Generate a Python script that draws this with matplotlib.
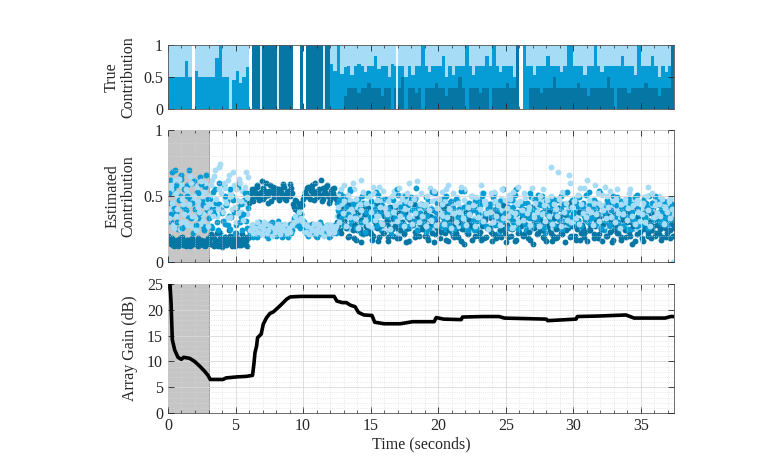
import numpy as np
import matplotlib
matplotlib.use("Agg")
import matplotlib.pyplot as plt
from matplotlib.ticker import MultipleLocator

plt.rcParams['font.family'] = ['Liberation Serif', 'DejaVu Serif']

DARK = '#0677A5'
MID = '#069DD6'
LIGHT = '#A6DCF5'

# ---- true contribution, 0.25 s bins (dark / medium / light share) ----
bin_w = 0.25
top_dark = [0, 0, 0, 0, 0, 0, 0, 0, 0, 0,
            0, 0, 0, 0, 0, 0, 0, 0, 0, 0,
            0, 0, 0, 0, 0, 1, 1, 1, 1, 1,
            1, 1, 1, 1, 1, 1, 1, 0, 0, 1,
            0, 1, 1, 1, 1, 1, 1, 1,
            0, 0, 0, 0, .2, .33, .33, .33, .25, .33,
            .33, .4, .33, .33, .33, .2, .33, .33, 0, .33,
            .33, .5, 0, .33, .33, .25, .33, 0, .33, .33,
            .33, .4, .33, .33, .2, .33, .33, .33, .5, .33,
            0, .33, .33, .33, .25, .33, .33, 0, .33, .33,
            .33, .33, .4, .33, .33, 1, 0, 0, 0, .33,
            .33, .33, .25, .33, .33, .33, .5, .33, .33, .33,
            .33, .33, .33, .4, .33, .33, .2, .33, .33, .33,
            .33, .33, .5, .33, 0, .33, .33, .33, .25, .33,
            .33, .33, .33, .4, .33, .33, .33, .2, .33, .33, .33, 1]
top_mid = [.5, .5, .5, .5, .5, .75, .5, 0, .6, .5,
           .5, .5, .5, .5, .8, 1, .5, .5, 0, .45,
           .6, .4, .5, .65, 0, 0, 0, 0, 0, 0,
           0, 0, 0, 0, 0, 0, 0, 0, 0, 0,
           0, 0, 0, 0, 0, 0, 0, 0,
           .7, .6, 1, .55, .45, .34, .2, .34, .45, .34,
           .25, .27, .34, .5, .3, .47, .34, .17, .7, .34,
           .34, .17, .5, .34, .2, .42, .34, 1, .34, .25,
           .34, .27, .34, .5, .3, .34, .2, .34, .17, .34,
           1, .34, .2, .34, .42, .34, .5, .67, .67, .34,
           .25, .34, .27, .34, .17, 0, 0, 1, .67, .34,
           .2, .34, .42, .34, .5, .34, .17, .34, .25, .34,
           .67, .67, .34, .27, .34, .2, .47, .34, .67, .34,
           .25, .34, .17, .34, .67, .34, .5, .34, .42, .34,
           .2, .67, .34, .27, .34, .5, .34, .3, .34, .25, .34, 0]
top_light = [.5, .5, .5, .5, .5, .25, .5, 0, .4, .5,
             .5, .5, .5, .5, .2, 0, .5, .5, 1, .55,
             .4, .6, .5, .35, 0, 0, 0, 0, 0, 0,
             0, 0, 0, 0, 0, 0, 0, 0, 0, 0,
             0, 0, 0, 0, 0, 0, 0, 0,
             .3, .4, 0, .45, .35, .33, .47, .33, .3, .33,
             .42, .33, .33, .17, .37, .33, .33, .5, .3, .33,
             .33, .33, .5, .33, .47, .33, .33, 0, .33, .42,
             .33, .33, .33, .17, .5, .33, .47, .33, .33, .33,
             0, .33, .47, .33, .33, .33, .17, .33, 0, .33,
             .42, .33, .33, .33, .5, 0, 0, 0, .33, .33,
             .47, .33, .33, .33, .17, .33, .33, .33, .42, .33,
             0, 0, .33, .33, .33, .47, .33, .33, 0, .33,
             .42, .33, .33, .33, .33, .33, .17, .33, .33, .33,
             .47, 0, .33, .33, .33, .17, .33, .5, .33, .42, .33, 0]
gap_times = [6.86, 8.14, 11.58, 16.93]

# ---- estimated contribution (hundredths) ----
# set "a" sampled every 0.125 s from t=0, set "b" in between (offset 0.0625 s)
dt_est = 0.125
est_dark_a = [20, 17, 15, 13, 16, 14, 12, 18, 15, 13, 16, 14, 17, 12, 15, 14, 16, 13, 18, 15, 14, 16, 12, 15,
              17, 14, 20, 12, 16, 22, 13, 18, 11, 15, 19, 14, 24, 16, 12, 20, 15, 18, 13, 17, 21, 14, 16, 19,
              45, 52, 48, 55, 50, 58, 47, 53, 56, 49, 60, 51, 54, 46, 57, 52, 50, 55, 48, 53, 59, 51, 47, 54, 50, 56,
              44, 40, 46, 38, 42, 45, 48,
              53, 50, 57, 48, 55, 52, 60, 49, 54, 51, 46, 56, 53, 58, 50, 47, 55, 52, 49,
              30, 38, 25, 42, 33, 28, 45, 20, 35, 27, 18, 31, 24, 36, 15, 29, 40, 22, 26, 33,
              21, 17, 34, 28, 44, 19, 25, 37, 23, 30, 16, 27, 35, 20, 31, 42, 24, 18, 29, 38,
              22, 15, 33, 26, 47, 30, 19, 36, 24, 28, 35, 41, 20, 27, 17, 32, 25, 39, 21, 30,
              24, 18, 29, 34, 22, 45, 16, 27, 31, 20, 33, 26, 19, 38, 25, 14, 30, 22, 36, 28,
              17, 29, 43, 24, 20, 35, 27, 18, 32, 26, 40, 23, 16, 30, 37, 21, 28, 19, 34, 25,
              15, 32, 26, 20, 38, 29, 17, 44, 23, 27, 30, 21, 35, 18, 26, 33, 14, 29, 40, 22,
              25, 37, 19, 28, 16, 31, 24, 36, 20, 33, 18, 27, 42, 22, 30, 15, 34, 26, 19, 29,
              36, 20, 25, 32, 17, 28, 39, 23, 16, 31, 24, 34, 18, 27, 45, 21, 30, 16, 26, 35,
              20, 28, 33, 15, 24, 38, 22, 29, 17, 32, 27, 19, 36, 23, 30, 14, 26, 41, 21, 28,
              33, 16, 25, 31, 20, 37, 18, 27, 34, 22, 29, 21, 17, 35, 26, 19, 32, 24, 38, 20]
est_dark_b = [16, 14, 18, 12, 15, 17, 13, 16, 19, 14, 12, 17, 15, 13, 18, 16, 14, 12, 15, 17, 13, 16, 14, 18,
              15, 21, 13, 18, 16, 12, 23, 17, 14, 19, 13, 16, 20, 15, 18, 12, 22, 14, 17, 13, 19, 16, 12, 18,
              50, 55, 46, 53, 57, 49, 52, 61, 48, 54, 51, 45, 58, 53, 49, 56, 52, 47, 55, 50, 57, 48, 53, 51, 59, 52,
              42, 47, 39, 44, 36, 43, 50,
              51, 56, 49, 54, 58, 47, 53, 50, 55, 62, 48, 52, 57, 51, 45, 54, 50, 56, 48,
              28, 35, 22, 40, 31, 26, 19, 43, 33, 24, 29, 17, 38, 25, 32, 21, 36, 27, 41, 23,
              34, 20, 30, 26, 16, 39, 28, 22, 35, 31, 19, 42, 25, 33, 27, 18, 37, 24, 30, 21,
              38, 26, 16, 32, 28, 44, 23, 35, 20, 29, 25, 31, 37, 19, 27, 34, 22, 15, 30, 26,
              36, 23, 28, 41, 17, 30, 24, 33, 27, 19, 22, 35, 30, 16, 29, 25, 38, 21, 32, 27,
              31, 20, 26, 36, 23, 17, 28, 34, 19, 40, 26, 33, 21, 29, 18, 35, 24, 30, 43, 22,
              28, 19, 34, 25, 31, 16, 37, 22, 27, 33, 20, 29, 36, 23, 17, 42, 26, 31, 21, 35,
              32, 24, 18, 30, 27, 38, 22, 16, 33, 25, 19, 34, 28, 21, 36, 24, 30, 45, 20, 27,
              33, 17, 29, 38, 22, 26, 19, 35, 31, 24, 27, 40, 21, 30, 18, 33, 25, 29, 37, 20,
              35, 23, 31, 17, 28, 36, 22, 26, 19, 32, 24, 30, 38, 20, 33, 27, 16, 29, 35, 23,
              18, 32, 26, 41, 22, 30, 24, 36, 20, 28, 31, 25, 19, 34, 27, 22, 36, 18, 29, 26]
est_mid_a = [45, 62, 30, 55, 70, 38, 25, 50, 66, 42, 28, 58, 35, 48, 60, 22, 40, 53, 33, 64, 46, 27, 57, 39,
             33, 48, 26, 40, 55, 30, 44, 22, 37, 58, 29, 46, 35, 25, 50, 38, 28, 42, 60, 34, 24, 47, 31, 52,
             24, 20, 28, 22, 26, 19, 30, 23, 25, 21, 27, 18, 29, 24, 22, 26, 20, 31, 23, 25, 28, 21, 24, 19, 27, 22,
             30, 34, 28, 32, 26, 29, 31,
             23, 26, 20, 28, 24, 22, 27, 19, 25, 30, 21, 24, 26, 22, 28, 20, 25, 23, 27,
             45, 38, 52, 30, 41, 35, 48, 27, 55, 33, 40, 29, 46, 36, 22, 50, 34, 43, 31, 38,
             26, 44, 37, 53, 30, 41, 24, 47, 35, 39, 32, 48, 21, 42, 36, 29, 51, 38, 27, 45,
             37, 25, 43, 34, 49, 28, 40, 56, 31, 36, 44, 30, 38, 23, 46, 35, 41, 27, 52, 33,
             29, 42, 36, 48, 25, 39, 33, 45, 22, 40, 35, 47, 28, 41, 37, 54, 30, 43, 26, 38,
             42, 24, 39, 31, 46, 35, 50, 28, 37, 44, 27, 40, 34, 52, 29, 43, 23, 38, 46, 32,
             39, 31, 47, 26, 42, 36, 55, 30, 44, 28, 45, 33, 24, 40, 37, 49, 29, 41, 34, 51,
             30, 43, 38, 22, 46, 35, 40, 27, 48, 36, 41, 26, 35, 50, 31, 44, 28, 39, 33, 47,
             34, 48, 29, 42, 37, 25, 45, 32, 40, 53, 28, 39, 46, 33, 41, 30, 52, 36, 24, 43,
             47, 35, 27, 44, 38, 31, 49, 26, 40, 34, 36, 42, 30, 48, 25, 39, 45, 33, 51, 29,
             40, 28, 37, 45, 32, 50, 24, 41, 35, 46, 33, 46, 39, 27, 43, 36, 30, 48, 38, 31]
est_mid_b = [52, 36, 68, 41, 58, 30, 47, 63, 26, 55, 39, 50, 70, 33, 45, 61, 28, 52, 37, 59, 43, 24, 66, 48,
             42, 27, 53, 36, 45, 24, 60, 39, 31, 50, 43, 28, 55, 34, 47, 22, 40, 57, 30, 44, 36, 52, 26, 41,
             22, 27, 19, 25, 29, 23, 21, 26, 24, 28, 20, 25, 23, 30, 22, 27, 24, 21, 26, 19, 28, 23, 25, 22, 29, 24,
             33, 29, 35, 27, 31, 28, 30,
             26, 21, 27, 23, 29, 24, 20, 26, 22, 28, 25, 21, 27, 24, 19, 26, 23, 28, 22,
             39, 47, 33, 50, 28, 42, 36, 54, 31, 44, 35, 26, 48, 40, 30, 45, 23, 38, 52, 34,
             46, 32, 40, 27, 51, 37, 43, 29, 48, 35, 41, 24, 38, 47, 33, 55, 30, 42, 36, 28,
             50, 34, 27, 45, 39, 31, 48, 24, 43, 37, 30, 42, 49, 35, 26, 40, 53, 33, 38, 45,
             36, 27, 44, 31, 50, 37, 29, 46, 41, 25, 48, 33, 40, 54, 28, 42, 35, 24, 45, 39,
             31, 46, 26, 38, 43, 30, 52, 36, 27, 41, 44, 35, 49, 28, 40, 33, 46, 31, 55, 37,
             26, 42, 34, 47, 30, 51, 38, 25, 43, 36, 40, 29, 45, 33, 52, 27, 39, 48, 31, 44,
             35, 50, 26, 41, 36, 46, 30, 43, 28, 39, 47, 32, 40, 25, 44, 37, 53, 29, 42, 34,
             38, 45, 31, 49, 27, 41, 35, 51, 30, 43, 33, 40, 47, 29, 36, 54, 26, 42, 38, 31,
             45, 28, 39, 50, 34, 43, 30, 37, 46, 27, 41, 35, 25, 44, 38, 31, 49, 27, 40, 36,
             29, 47, 34, 42, 26, 39, 45, 32, 50, 37, 43, 30, 38, 46, 33, 28, 41, 36, 44, 35]
est_light_a = [0, 40, 55, 28, 62, 35, 48, 25, 58, 44, 30, 52, 38, 65, 27, 46, 33, 57, 42, 29, 50, 36, 60, 45,
               50, 38, 62, 45, 70, 35, 55, 74, 42, 60, 48, 33, 66, 52, 40, 58, 30, 47, 63, 38, 54, 44, 68, 36,
               26, 23, 28, 21, 25, 29, 22, 27, 24, 30, 20, 26, 28, 23, 25, 27, 22, 29, 24, 26, 21, 28, 25, 23, 27, 24,
               31, 34, 29, 33, 36, 30, 32,
               25, 22, 28, 24, 26, 21, 27, 23, 29, 25, 22, 26, 24, 28, 23, 27, 21, 25, 26,
               35, 50, 28, 44, 58, 32, 40, 25, 47, 38, 55, 30, 42, 36, 62, 27, 45, 33, 50, 39,
               43, 26, 52, 35, 40, 57, 30, 46, 24, 38, 48, 34, 41, 29, 54, 37, 22, 45, 39, 51,
               31, 46, 38, 60, 27, 43, 35, 49, 26, 40, 52, 37, 29, 44, 33, 56, 41, 24, 47, 36,
               40, 28, 53, 35, 46, 30, 58, 38, 25, 43, 34, 49, 27, 42, 37, 55, 31, 45, 23, 39,
               50, 33, 44, 26, 40, 35, 52, 29, 46, 38, 27, 45, 36, 53, 31, 41, 24, 48, 39, 34,
               43, 30, 51, 38, 27, 46, 35, 57, 32, 40, 36, 52, 29, 44, 40, 25, 48, 34, 42, 30,
               47, 33, 55, 38, 28, 43, 36, 50, 26, 41, 39, 68, 31, 45, 36, 52, 28, 42, 60, 34,
               44, 30, 49, 37, 56, 26, 41, 35, 62, 38, 32, 47, 40, 58, 29, 45, 36, 51, 27, 43,
               50, 35, 42, 28, 46, 39, 55, 31, 44, 37, 29, 44, 36, 52, 40, 33, 48, 26, 45, 38,
               41, 27, 49, 35, 57, 30, 43, 38, 46, 32, 37, 50, 31, 45, 28, 42, 35, 48, 40, 0]
est_light_b = [33, 58, 45, 26, 52, 40, 63, 30, 48, 36, 55, 28, 44, 60, 35, 50, 24, 46, 38, 61, 31, 53, 42, 27,
               44, 58, 35, 65, 48, 40, 72, 52, 38, 56, 45, 62, 34, 50, 68, 42, 55, 37, 60, 46, 32, 57, 49, 64,
               24, 28, 22, 26, 30, 23, 27, 21, 25, 29, 22, 24, 27, 20, 26, 23, 28, 25, 21, 27, 24, 29, 22, 26, 23, 28,
               30, 35, 32, 38, 33, 31, 29,
               23, 27, 21, 26, 24, 29, 22, 25, 28, 23, 26, 20, 27, 24, 22, 28, 25, 23, 27,
               42, 30, 55, 37, 46, 27, 51, 34, 40, 60, 33, 48, 26, 44, 39, 53, 31, 45, 28, 50,
               38, 57, 32, 47, 35, 42, 29, 54, 41, 36, 46, 25, 50, 38, 43, 31, 56, 35, 48, 27,
               40, 52, 34, 45, 29, 48, 37, 61, 30, 44, 35, 43, 27, 50, 39, 32, 46, 54, 28, 41,
               48, 36, 44, 29, 55, 34, 40, 26, 52, 37, 30, 45, 38, 57, 33, 47, 28, 42, 36, 50,
               43, 27, 49, 34, 40, 58, 31, 44, 37, 25, 38, 52, 30, 46, 35, 43, 28, 55, 33, 47,
               41, 35, 48, 26, 53, 37, 44, 30, 46, 39, 32, 49, 37, 42, 28, 56, 34, 45, 38, 27,
               50, 36, 43, 31, 47, 35, 72, 29, 44, 40, 35, 48, 27, 53, 38, 45, 32, 66, 30, 42,
               46, 33, 51, 29, 44, 37, 56, 34, 40, 47, 38, 28, 45, 36, 52, 31, 43, 39, 57, 33,
               42, 54, 34, 46, 30, 48, 37, 26, 44, 36, 48, 32, 41, 55, 35, 43, 29, 47, 38, 31,
               36, 45, 30, 50, 39, 27, 52, 34, 43, 37, 44, 35, 48, 29, 41, 38, 46, 33, 40, 36]

# ---- array gain ----
gain_t = [0, 0.1, 0.15, 0.23, 0.32, 0.5, 0.74, 0.99, 1.16, 1.6, 1.97, 2.34, 2.71, 2.96, 3.13,
          4.07, 4.3, 5.1, 5.8, 6.26, 6.36, 6.44, 6.56, 6.63, 6.9, 7.05, 7.3, 7.55, 7.8, 8.3,
          8.8, 9.05, 9.8, 12.3, 12.5, 12.9, 13.2, 13.5, 13.85, 14.1, 14.5, 15.1, 15.3, 16.0,
          17.2, 18.1, 19.7, 19.85, 20.4, 21.7, 21.8, 23.3, 24.5, 24.9, 28.0, 28.1, 30.2, 30.3,
          31.9, 33.9, 34.5, 36.8, 37.2, 37.45]
gain_db = [30, 26, 25.1, 21.3, 14.2, 12.2, 10.8, 10.4, 10.8, 10.6, 10.0, 9.1, 8.1, 7.3, 6.5,
           6.5, 6.8, 7.0, 7.1, 7.3, 9.5, 11.7, 13.0, 14.6, 15.3, 17.2, 18.5, 19.3, 19.6, 20.8,
           22.1, 22.5, 22.6, 22.6, 21.7, 21.4, 21.4, 20.9, 20.6, 19.5, 19.0, 18.9, 17.6, 17.3,
           17.3, 17.7, 17.7, 18.5, 18.2, 18.1, 18.6, 18.7, 18.7, 18.4, 18.2, 17.9, 18.2, 18.7,
           18.8, 19.0, 18.4, 18.4, 18.7, 18.7]

t_max = 37.45
train_end = 3.0

fig = plt.figure(figsize=(7.73, 4.68), dpi=100)
ax_top = fig.add_axes([0.2173, 0.7671, 0.6546, 0.1368])
ax_mid = fig.add_axes([0.2173, 0.4402, 0.6546, 0.2821])
ax_bot = fig.add_axes([0.2173, 0.1175, 0.6546, 0.2756])

edges = np.arange(len(top_dark)) * bin_w
d = np.array(top_dark)
m = np.array(top_mid)
l = np.array(top_light)
ax_top.bar(edges, d, width=bin_w, align='edge', color=DARK, lw=0)
ax_top.bar(edges, m, width=bin_w, align='edge', bottom=d, color=MID, lw=0)
ax_top.bar(edges, l, width=bin_w, align='edge', bottom=d + m, color=LIGHT, lw=0)
for g in gap_times:
    ax_top.axvline(g, color='white', lw=1.2)
ax_top.set_ylim(0, 1)
ax_top.set_yticks([0, 0.5, 1])
ax_top.set_yticklabels(['0', '0.5', '1'])
ax_top.set_xticklabels([])
ax_top.set_ylabel('True\nContribution')

t_a = np.arange(len(est_dark_a)) * dt_est
t_b = t_a + dt_est / 2
# interleave the draw order so no single source always sits on top
layers = [(t_a, est_dark_a, DARK), (t_a, est_mid_a, MID), (t_a, est_light_a, LIGHT),
          (t_b, est_dark_b, DARK), (t_b, est_mid_b, MID), (t_b, est_light_b, LIGHT)]
for tt, vals, c in layers:
    ax_mid.scatter(tt, np.array(vals) / 100, s=18, color=c, lw=0, zorder=2)
ax_mid.set_ylim(0, 1)
ax_mid.set_yticks([0, 0.5, 1])
ax_mid.set_yticklabels(['0', '0.5', '1'])
ax_mid.yaxis.set_minor_locator(MultipleLocator(0.1))
ax_mid.set_xticklabels([])
ax_mid.set_ylabel('Estimated\nContribution')

ax_bot.plot(gain_t, gain_db, color='black', lw=2.6, zorder=3)
ax_bot.set_ylim(0, 25)
ax_bot.set_yticks(range(0, 26, 5))
ax_bot.yaxis.set_minor_locator(MultipleLocator(1))
ax_bot.set_ylabel('Array Gain (dB)')
ax_bot.set_xlabel('Time (seconds)', labelpad=2)

for ax in (ax_mid, ax_bot):
    ax.axvspan(0, train_end, facecolor='#c6c6c6', edgecolor='#8a8a8a', lw=0.6, zorder=1)
    ax.grid(True, which='major', color='#d9d9d9', lw=0.6)
    ax.grid(True, which='minor', color='#d9d9d9', lw=0.5, ls=':')
    ax.set_axisbelow(False)

for ax in (ax_top, ax_mid, ax_bot):
    ax.set_xlim(0, t_max)
    ax.set_xticks(range(0, 36, 5))
    ax.xaxis.set_minor_locator(MultipleLocator(1))
    ax.tick_params(which='both', direction='in', top=True, right=True,
                   colors='#262626', labelsize=11.5)
    ax.tick_params(which='major', length=4, width=0.6)
    ax.tick_params(which='minor', length=2.2, width=0.5)
    ax.tick_params(axis='y', which='minor', length=0)
    for s in ax.spines.values():
        s.set_color('#555555')
        s.set_linewidth(0.6)
    ax.yaxis.label.set_size(11.5)
    ax.xaxis.label.set_size(11.5)
    ax.yaxis.label.set_color('#262626')
    ax.xaxis.label.set_color('#262626')
    ax.yaxis.label.set_linespacing(1.0)

ax_top.yaxis.set_label_coords(-0.063, 0.5)
ax_mid.yaxis.set_label_coords(-0.063, 0.5)
ax_bot.yaxis.set_label_coords(-0.059, 0.5)

fig.savefig('out.png', dpi=100)
